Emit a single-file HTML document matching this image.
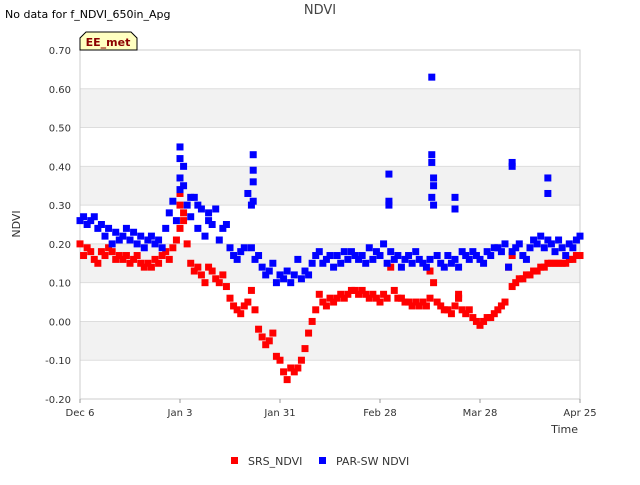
<!DOCTYPE html>
<html><head><meta charset="utf-8"><style>
body{margin:0;background:#fff;font-family:"Liberation Sans","DejaVu Sans",sans-serif;}
svg text{font-family:"DejaVu Sans","Liberation Sans",sans-serif;}
</style></head><body>
<svg id="chart" width="640" height="480" xmlns="http://www.w3.org/2000/svg">
<text x="5" y="18" font-size="11" fill="#000">No data for f_NDVI_650in_Apg</text>
<text x="320" y="14" font-size="13" fill="#444" text-anchor="middle">NDVI</text>
<g id="plot"></g>
<g>
<path d="M80,50 L80,38 L86,32 L131,32 L137,38 L137,50 Z" fill="#ffffc0" stroke="#000" stroke-width="1"/>
<text x="108" y="46" font-size="11" font-weight="bold" fill="#8b0000" text-anchor="middle">EE_met</text>
</g>
<text x="20" y="224" font-size="11" fill="#333" text-anchor="middle" transform="rotate(-90 20 224)">NDVI</text>
<text x="578" y="433" font-size="11" fill="#333" text-anchor="end">Time</text>
<g>
<rect x="231" y="457" width="7" height="7" fill="#f00"/>
<text x="248" y="465" font-size="11" fill="#333">SRS_NDVI</text>
<rect x="319" y="457" width="7" height="7" fill="#00f"/>
<text x="336" y="465" font-size="11" fill="#333">PAR-SW NDVI</text>
</g>
</svg>
<script>
const xTickLabels=["Dec 6","Jan 3","Jan 31","Feb 28","Mar 28","Apr 25"];
const xTickDays=[0,28,56,84,112,140];
const yTicks=[-0.2,-0.1,0,0.1,0.2,0.3,0.4,0.5,0.6,0.7];
const srsDaily=[0.20,0.17,0.19,0.18,0.16,0.15,0.18,0.17,0.19,0.18,0.16,0.17,0.16,0.17,0.15,0.16,0.17,0.15,0.14,0.15,0.14,0.16,0.15,0.17,0.18,0.16,0.19,0.21,0.24,0.28,0.20,0.15,0.13,0.14,0.12,0.10,0.14,0.13,0.11,0.10,0.12,0.09,0.06,0.04,0.03,0.02,0.04,0.05,0.08,0.03,-0.02,-0.04,-0.06,-0.05,-0.03,-0.09,-0.10,-0.13,-0.15,-0.12,-0.13,-0.12,-0.10,-0.07,-0.03,0.00,0.03,0.07,0.05,0.04,0.06,0.05,0.06,0.07,0.06,0.07,0.08,0.08,0.07,0.08,0.07,0.06,0.07,0.06,0.05,0.07,0.06,0.14,0.08,0.06,0.06,0.05,0.05,0.04,0.05,0.04,0.05,0.04,0.06,0.10,0.05,0.04,0.03,0.03,0.02,0.04,0.06,0.03,0.02,0.03,0.01,0.00,-0.01,0.00,0.01,0.01,0.02,0.03,0.04,0.05,0.14,0.09,0.10,0.11,0.11,0.12,0.12,0.13,0.13,0.14,0.14,0.15,0.15,0.15,0.15,0.15,0.15,0.16,0.16,0.17,0.17];
const parDaily=[0.26,0.27,0.25,0.26,0.27,0.24,0.25,0.22,0.24,0.20,0.23,0.21,0.22,0.24,0.21,0.23,0.20,0.22,0.19,0.21,0.22,0.20,0.21,0.19,0.24,0.28,0.31,0.26,0.34,0.40,0.30,0.27,0.32,0.24,0.29,0.22,0.26,0.25,0.29,0.21,0.24,0.25,0.19,0.17,0.16,0.18,0.19,0.33,0.19,0.16,0.17,0.14,0.12,0.13,0.15,0.10,0.12,0.11,0.13,0.10,0.12,0.16,0.11,0.13,0.12,0.15,0.17,0.18,0.15,0.16,0.17,0.14,0.17,0.15,0.18,0.16,0.18,0.17,0.16,0.17,0.15,0.19,0.16,0.18,0.17,0.20,0.15,0.18,0.16,0.17,0.14,0.16,0.17,0.15,0.18,0.16,0.15,0.14,0.16,0.30,0.17,0.15,0.14,0.17,0.15,0.16,0.14,0.18,0.17,0.16,0.18,0.17,0.16,0.15,0.18,0.17,0.19,0.19,0.18,0.20,0.14,0.18,0.19,0.20,0.17,0.16,0.19,0.21,0.20,0.22,0.19,0.21,0.20,0.18,0.21,0.19,0.17,0.20,0.19,0.21,0.22];
const parExtraDays=[28,28,28,29,48.5,48.5,48.5,48.5,48,86.5,86.5,86.5,98.5,98.5,98.5,99,99,98.5,105,105,121,121,131,131,31,33,36];
const parExtraVals=[0.45,0.42,0.37,0.35,0.43,0.39,0.36,0.31,0.30,0.38,0.30,0.31,0.63,0.43,0.41,0.37,0.35,0.32,0.32,0.29,0.41,0.40,0.37,0.33,0.32,0.30,0.28];
const srsExtraDays=[28,28,29,98,121,106,106];
const srsExtraVals=[0.33,0.30,0.26,0.13,0.17,0.07,0.06];

const NS="http://www.w3.org/2000/svg";
const L=80,R=580,T=50,B=399;
const xs=d=>L+d*(R-L)/140;
const ys=v=>B-(v+0.2)*(B-T)/0.9;
const plot=document.getElementById('plot');
function mk(t,a){const e=document.createElementNS(NS,t);for(const k in a)e.setAttribute(k,a[k]);plot.appendChild(e);return e;}
mk('rect',{x:L,y:T,width:R-L,height:B-T,fill:'#fff'});
for(let i=0;i<yTicks.length-1;i++){
  if(i%2===1){const r=mk('rect',{x:L,y:ys(yTicks[i+1]),width:R-L,height:ys(yTicks[i])-ys(yTicks[i+1]),fill:'#f2f2f2'});
  
  }
}
yTicks.forEach(v=>{
  const y=ys(v);
  const g=mk('line',{x1:L,x2:R,y1:y,y2:y,stroke:'#ddd','stroke-width':1});
  
  
  const t=mk('text',{x:L-9,y:y+4,'font-size':10,fill:'#333','text-anchor':'end'});
  t.textContent=v.toFixed(2);
  
  
});
mk('rect',{x:L,y:T,width:R-L,height:B-T,fill:'none',stroke:'#ccc'});
xTickDays.forEach((d,i)=>{
  const x=xs(d);
  mk('line',{x1:x,x2:x,y1:B,y2:B+4,stroke:'#999'});
  const t=mk('text',{x:x,y:B+17,'font-size':10,fill:'#333','text-anchor':'middle'});
  t.textContent=xTickLabels[i];
  
  
});
function pt(d,v,c,name){
  const r=mk('rect',{x:xs(d)-3.5,y:ys(v)-3.5,width:7,height:7,fill:c});
  
  
}
srsDaily.forEach((v,i)=>pt(i,v,'#f00','srs-point'));
srsExtraDays.forEach((d,i)=>pt(d,srsExtraVals[i],'#f00','srs-point'));
parDaily.forEach((v,i)=>pt(i,v,'#00f','par-point'));
parExtraDays.forEach((d,i)=>pt(d,parExtraVals[i],'#00f','par-point'));
</script>
</body></html>
